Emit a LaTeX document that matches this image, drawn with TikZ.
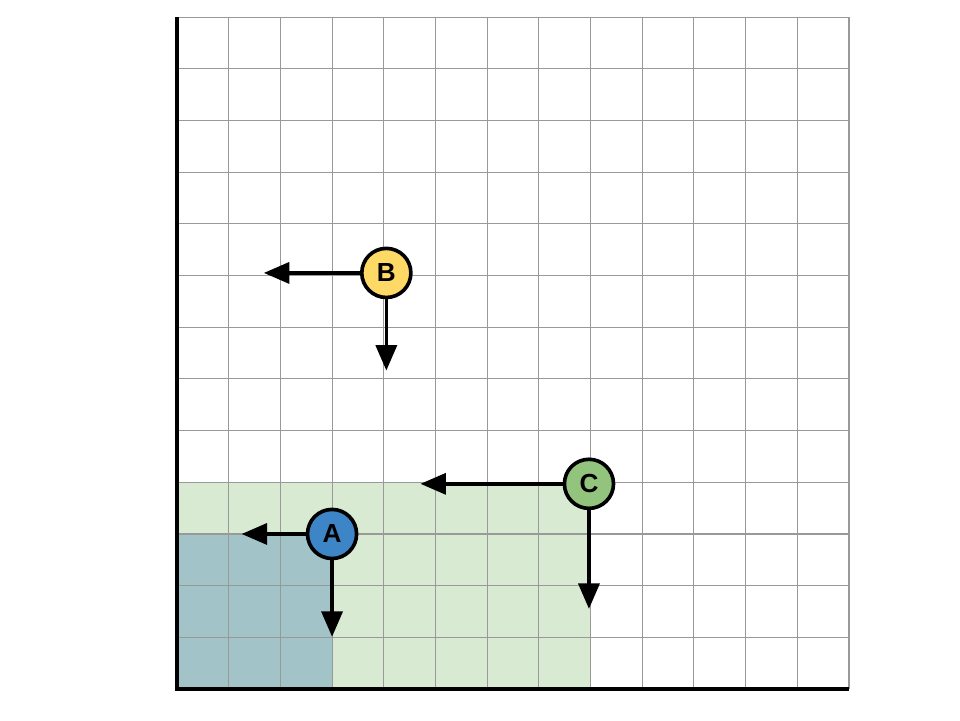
\documentclass[tikz,border=0pt]{standalone}
\usepackage{fontspec}
\setmainfont{Liberation Sans}
\usepackage{xcolor}
\usepackage{tikz}
\usetikzlibrary{arrows.meta}
\definecolor{pointA}{HTML}{3D85C6}
\definecolor{pointB}{HTML}{FFD966}
\definecolor{pointC}{HTML}{93C47D}
\definecolor{areaC}{HTML}{D9EAD3}
\definecolor{areaA}{HTML}{A2C4C9}
\definecolor{gridgray}{HTML}{999999}
\tikzset{
  pt/.style={circle, draw=black, line width=2pt, minimum size=0.95cm, inner sep=0pt, font=\bfseries\Large},
  vec/.style={-{Triangle[length=14pt,width=11.5pt]}, line width=2pt}
}

\begin{document}
\begin{tikzpicture}
    \useasboundingbox (-3.424,-0.6) rectangle (15.148,13.33);
    \fill[areaC] (0,0) rectangle (8,4);
    \fill[areaA] (0,0) rectangle (3,3);
    \draw[gridgray, line width=0.6pt] (0,0) grid (13,13);
    \draw[line width=2.2pt] (0,13) -- (0,0) -- (13,0);
    \node[pt, fill=pointA] (A) at (3,3) {A};
    \node[pt, fill=pointB] (B) at (4.05,8.05) {B};
    \node[pt, fill=pointC] (C) at (7.97,3.97) {C};
    \coordinate (A1) at (1.25,3);
    \coordinate (A2) at (3,1.01);
    \coordinate (B1) at (1.68,8.05);
    \coordinate (B2) at (4.05,6.16);
    \coordinate (C1) at (4.71,3.97);
    \coordinate (C2) at (7.97,1.55);
    \path [vec] (A) edge (A1);
    \path [vec] (A) edge (A2);
    \path [vec] (B) edge (B1);
    \path [vec] (B) edge (B2);
    \path [vec] (C) edge (C1);
    \path [vec] (C) edge (C2);
\end{tikzpicture}
\end{document}
